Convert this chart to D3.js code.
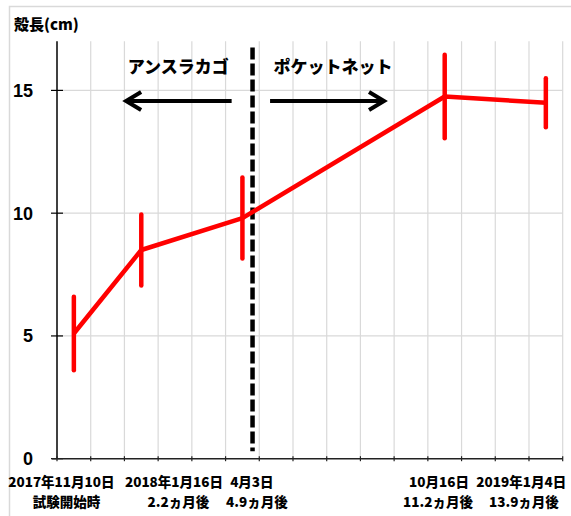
<!DOCTYPE html>
<html>
<head>
<meta charset="utf-8">
<script src="https://cdn.jsdelivr.net/npm/d3@7/dist/d3.min.js"></script>
<style>
  html, body { margin: 0; padding: 0; background: #fff; }
  svg { display: block; }
  .jp { font-family: "Noto Sans CJK JP", "Noto Sans", sans-serif; font-weight: 900; }
  .num { font-family: "Liberation Sans", Arial, sans-serif; font-weight: bold; }
</style>
</head>
<body>
<svg id="chart" width="571" height="516"></svg>
<script>
// Shell length over the test period (mean ± spread), plotted on a month axis
const monthPos = [0.5, 2.5, 5.5, 11.5, 14.5];
const shellLength = [5.1, 8.5, 9.8, 14.75, 14.5];
const spread = [1.5, 1.45, 1.65, 1.7, 1.0];
const yTicks = [0, 5, 10, 15];
const xTicks = d3.range(0, 16);
const dateLabels = ["2017年11月10日", "2018年1月16日", "4月3日", "10月16日", "2019年1月4日"];
const elapsedLabels = ["試験開始時", "2.2ヵ月後", "4.9ヵ月後", "11.2ヵ月後", "13.9ヵ月後"];
const gearLabels = ["アンスラカゴ", "ポケットネット"];
const gearSwitch = 5.8;

const svg = d3.select("#chart");
const W = 571, H = 516;

const x = d3.scaleLinear().domain([0, 15]).range([57, 562.7]);
const y = d3.scaleLinear().domain([0, 17]).range([458.7, 41.3]);

// outer frame
svg.append("rect")
  .attr("x", 9.5).attr("y", 6.5)
  .attr("width", W).attr("height", H)
  .attr("fill", "none").attr("stroke", "#d9d9d9").attr("stroke-width", 1.5);

// grid
const grid = svg.append("g").attr("stroke", "#d9d9d9").attr("stroke-width", 1.2);
grid.selectAll("line.v").data(xTicks.slice(1)).join("line")
  .attr("x1", d => x(d)).attr("x2", d => x(d))
  .attr("y1", y(17)).attr("y2", y(0));
grid.selectAll("line.h").data(yTicks.slice(1)).join("line")
  .attr("x1", x(0)).attr("x2", x(15))
  .attr("y1", d => y(d)).attr("y2", d => y(d));

// y axis
const yAxis = svg.append("g");
yAxis.append("line")
  .attr("x1", x(0)).attr("x2", x(0)).attr("y1", y(17)).attr("y2", y(0))
  .attr("stroke", "#000").attr("stroke-width", 1.5);
yAxis.selectAll("line.t").data(yTicks).join("line")
  .attr("x1", x(0) - 6).attr("x2", x(0) + 6)
  .attr("y1", d => y(d)).attr("y2", d => y(d))
  .attr("stroke", "#000").attr("stroke-width", 1.2);
yAxis.selectAll("text").data(yTicks).join("text")
  .attr("class", "num")
  .attr("x", 33).attr("y", d => y(d))
  .attr("dy", "0.36em")
  .attr("text-anchor", "end")
  .attr("font-size", 18)
  .text(d => d);

// x axis
const xAxis = svg.append("g");
xAxis.append("line")
  .attr("x1", x(0) - 5).attr("x2", x(15)).attr("y1", y(0)).attr("y2", y(0))
  .attr("stroke", "#222").attr("stroke-width", 1.5);
xAxis.selectAll("line.t").data(xTicks).join("line")
  .attr("x1", d => x(d)).attr("x2", d => x(d))
  .attr("y1", y(0) - 2.5).attr("y2", y(0) + 2.5)
  .attr("stroke", "#222").attr("stroke-width", 1.2);

// axis title
svg.append("text").attr("class", "jp")
  .attr("x", 14).attr("y", 30)
  .attr("font-size", 15)
  .text("殻長(cm)");

// category labels under the axis
const labelAt = [0.13, 3.47, 5.78, 11.33, 13.77];
const labelG = svg.append("g").attr("class", "jp").attr("font-size", 13.5).attr("text-anchor", "middle");
labelG.selectAll("text.d").data(dateLabels).join("text")
  .attr("x", (d, i) => x(labelAt[i])).attr("y", 487)
  .text(d => d);
const subAt = [0.28, 3.6, 5.93, 11.3, 13.85];
labelG.selectAll("text.e").data(elapsedLabels).join("text")
  .attr("x", (d, i) => x(subAt[i])).attr("y", 507)
  .text(d => d);

// gear-change marker
svg.append("line")
  .attr("x1", x(gearSwitch)).attr("x2", x(gearSwitch))
  .attr("y1", y(16.75)).attr("y2", y(0.3))
  .attr("stroke", "#000").attr("stroke-width", 4.5)
  .attr("stroke-dasharray", "12 4");

// gear names and direction arrows
svg.selectAll("text.gear").data(gearLabels).join("text")
  .attr("class", "jp")
  .attr("x", (d, i) => i === 0 ? x(2.1) : x(6.42))
  .attr("y", 73)
  .attr("font-size", 17)
  .text(d => d);

const arrowY = y(14.57);
function arrow(from, to) {
  const dir = Math.sign(to - from);
  const tip = x(to);
  svg.append("line")
    .attr("x1", x(from)).attr("x2", tip - dir * 3)
    .attr("y1", arrowY).attr("y2", arrowY)
    .attr("stroke", "#000").attr("stroke-width", 4);
  svg.append("polyline")
    .attr("points", [[tip - dir * 15, arrowY - 9], [tip, arrowY], [tip - dir * 15, arrowY + 9]].join(" "))
    .attr("fill", "none").attr("stroke", "#000").attr("stroke-width", 4)
    .attr("stroke-linejoin", "miter");
}
arrow(5.18, 2.05);
arrow(6.32, 9.7);

// shell length series
const pts = monthPos.map((m, i) => ({ m, v: shellLength[i], e: spread[i] }));
svg.append("path")
  .datum(pts)
  .attr("d", d3.line().x(d => x(d.m)).y(d => y(d.v)))
  .attr("fill", "none").attr("stroke", "#ff0000").attr("stroke-width", 4.5)
  .attr("stroke-linejoin", "round");
svg.selectAll("line.err").data(pts).join("line")
  .attr("x1", d => x(d.m)).attr("x2", d => x(d.m))
  .attr("y1", d => y(d.v + d.e)).attr("y2", d => y(d.v - d.e))
  .attr("stroke", "#ff0000").attr("stroke-width", 4.5)
  .attr("stroke-linecap", "round");
</script>
</body>
</html>
